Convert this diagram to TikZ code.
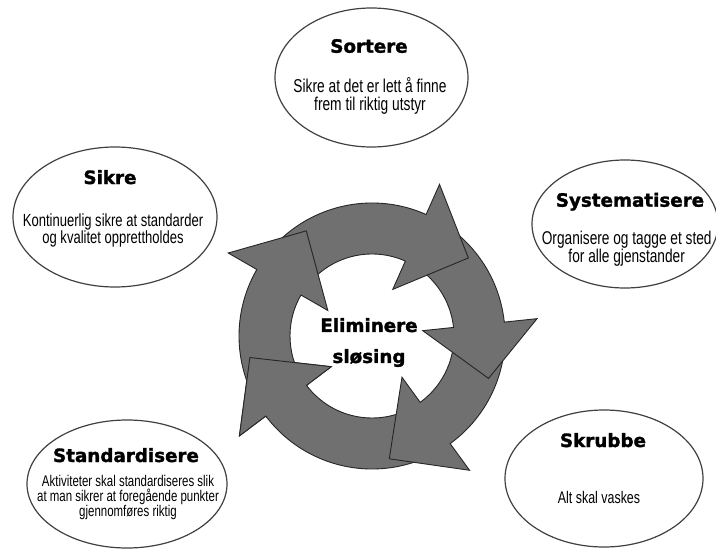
\documentclass[tikz,border=0pt]{standalone}
\usepackage{fontspec}
\setmainfont{Liberation Sans}
\newfontfamily\bodyfont{Liberation Sans}[FakeStretch=0.74]
\newfontfamily\headfont{DejaVu Sans}[BoldFeatures={FakeBold=1.6}]
\usepackage{tikz}
\usetikzlibrary{shapes.geometric}

\definecolor{arrowgray}{RGB}{112,112,112}
\def\ringin{82}
\def\ringout{133}
\def\wingin{51}
\def\wingout{166}
\def\tipr{124}
% #1 tail angle, #2 head base angle, #3 tip angle
\newcommand{\cyclearrow}[3]{%
  \filldraw[ringarrow] (#1:\ringout) arc[start angle=#1,end angle=#2,radius=\ringout]
    -- (#2:\wingout) -- (#3:\tipr) -- (#2:\wingin) -- (#2:\ringin)
    arc[start angle=#2,end angle=#1,radius=\ringin] -- cycle;}

\begin{document}
\begin{tikzpicture}[
  x=1pt,y=-1pt,
  phase/.style={draw=black!75,line width=1.2pt,ellipse,inner sep=0pt},
  title/.style={font=\headfont\bfseries\fontsize{18.3}{20}\selectfont,anchor=base,inner sep=0pt},
  body/.style={align=center,inner sep=0pt},
  ringarrow/.style={fill=arrowgray,draw=black!85,line width=0.9pt,line join=miter}
]
\useasboundingbox (0,0) rectangle (716,549);

\node[phase,minimum width=193pt,minimum height=139pt] (sortere) at (371.5,77.5) {};
\node[title] (sortere-t) at (369,52.7) {Sortere};
\node[body,font=\bodyfont\fontsize{18.6}{18.3}\selectfont] (sortere-b) at (370,95.6) {Sikre at det er lett å finne\\frem til riktig utstyr};

\node[phase,minimum width=186pt,minimum height=128pt] (system) at (625,224) {};
\node[title] (system-t) at (630,206.7) {Systematisere};
\node[body,font=\bodyfont\fontsize{18.5}{15.3}\selectfont] (system-b) at (626.7,248.5) {Organisere og tagge et sted\\for alle gjenstander};

\node[phase,minimum width=198pt,minimum height=137pt] (skrubbe) at (604,478.5) {};
\node[title] (skrubbe-t) at (603,447) {Skrubbe};
\node[body,anchor=base,font=\bodyfont\fontsize{16.8}{18}\selectfont] (skrubbe-b) at (599,503) {Alt skal vaskes};

\node[phase,minimum width=200pt,minimum height=128pt] (standard) at (127,484) {};
\node[title] (standard-t) at (126,462) {Standardisere};
\node[body,font=\bodyfont\fontsize{15.5}{15}\selectfont] (standard-b) at (128,497.8) {Aktiviteter skal standardiseres slik\\at man sikrer at foregående punkter\\gjennomføres riktig};

\node[phase,minimum width=204pt,minimum height=140pt] (sikre) at (115,217) {};
\node[title] (sikre-t) at (110,184) {Sikre};
\node[body,font=\bodyfont\fontsize{17.6}{15.4}\selectfont] (sikre-b) at (113,230.4) {Kontinuerlig sikre at standarder\\og kvalitet opprettholdes};

\begin{scope}[shift={(372,336)},yscale=-1]
  \cyclearrow{-54}{-143}{-170}
  \cyclearrow{6}{-54}{-82}
  \cyclearrow{66}{6}{-20}
  \cyclearrow{150}{66}{39}
  \cyclearrow{217}{150}{122}
  \begin{scope}
    \clip (0,0) -- (186:200) arc[start angle=186,end angle=218,radius=200] -- cycle;
    \cyclearrow{-54}{-143}{-170}
  \end{scope}
\end{scope}

\node[align=center,inner sep=0pt,font=\headfont\bfseries\fontsize{18.3}{31}\selectfont] (waste) at (369,342.5) {Eliminere\\sløsing};
\end{tikzpicture}
\end{document}
